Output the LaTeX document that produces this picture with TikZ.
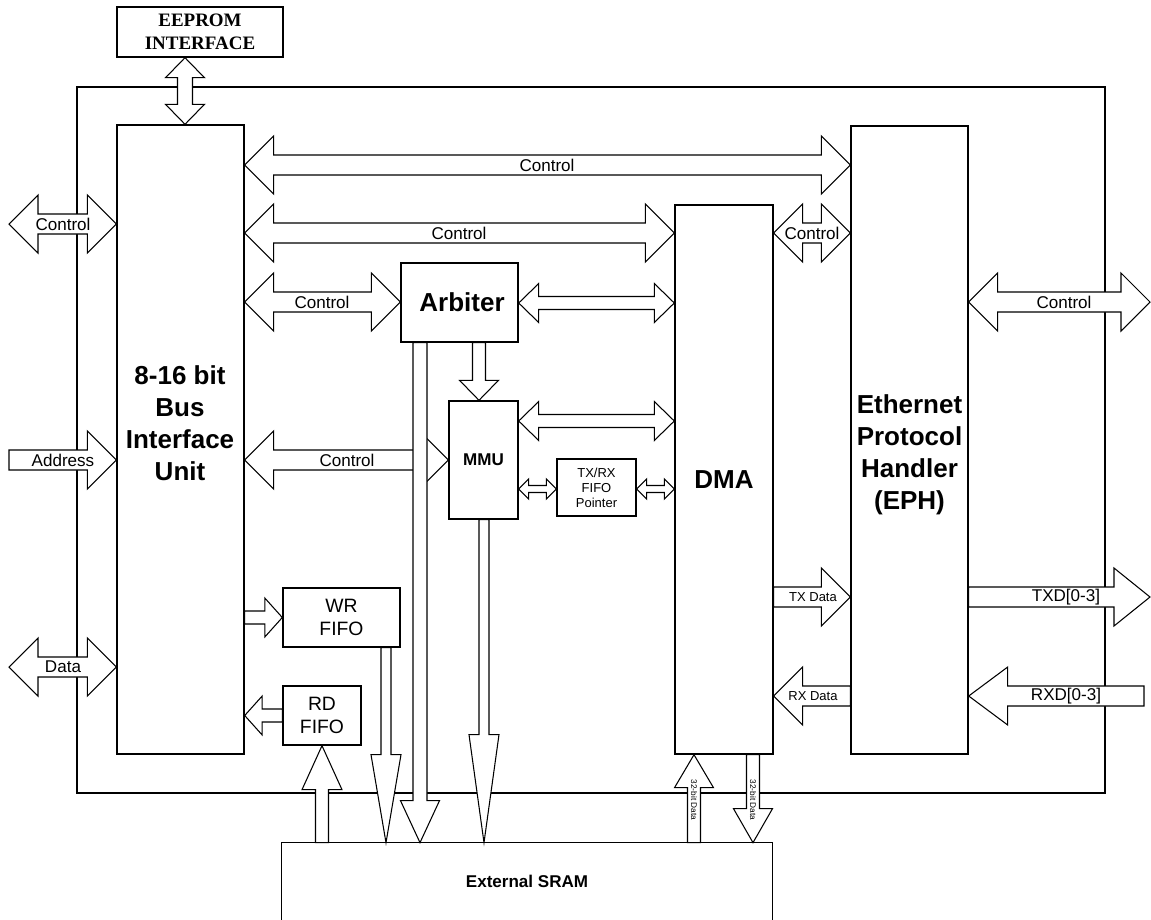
\documentclass[tikz,border=0pt]{standalone}
\usepackage{fontspec}
\setmainfont{Liberation Serif}
\setsansfont{Liberation Sans}
\usetikzlibrary{calc,fit}
\pgfdeclarelayer{chipbg}
\pgfdeclarelayer{buses}
\pgfsetlayers{chipbg,buses,main}
\tikzset{
  blk/.style={draw, line width=0.8pt, inner sep=0pt, fill=white},
  chip/.style={draw, line width=0.8pt, inner sep=0pt},
  bus/.style={draw, fill=white, line width=0.6pt, line join=miter},
  hdfont/.style={font=\sffamily\bfseries\fontsize{14.8}{18.2}\selectfont, align=center, inner sep=0pt},
  midbold/.style={font=\sffamily\bfseries\fontsize{9.7}{11.5}\selectfont, inner sep=0pt},
  fifofont/.style={font=\sffamily\fontsize{11}{12.6}\selectfont, align=center, inner sep=0pt},
  lbl/.style={font=\sffamily\fontsize{9.7}{11}\selectfont, inner sep=0pt},
  smlbl/.style={font=\sffamily\fontsize{7.4}{8.5}\selectfont, inner sep=0pt, align=center},
  tinylbl/.style={font=\sffamily\fontsize{4.7}{5.5}\selectfont, inner sep=0pt},
}
% bus arrows: #1 from, #2 to, #3 half shaft, #4 half head, #5 head length
\newcommand{\busboth}[5]{%
  \begin{pgfonlayer}{buses}
  \path (#1) coordinate (bA) (#2) coordinate (bB)
        ($(bA)!#5!(bB)$) coordinate (hA) ($(bB)!#5!(bA)$) coordinate (hB);
  \draw[bus] (bA) -- ($(hA)!#4!90:(bB)$) -- ($(hA)!#3!90:(bB)$)
    -- ($(hB)!#3!-90:(bA)$) -- ($(hB)!#4!-90:(bA)$) -- (bB)
    -- ($(hB)!#4!90:(bA)$) -- ($(hB)!#3!90:(bA)$)
    -- ($(hA)!#3!-90:(bB)$) -- ($(hA)!#4!-90:(bB)$) -- cycle;
  \end{pgfonlayer}}
\newcommand{\busone}[5]{%
  \begin{pgfonlayer}{buses}
  \path (#1) coordinate (bA) (#2) coordinate (bB)
        ($(bB)!#5!(bA)$) coordinate (hB);
  \draw[bus] ($(bA)!#3!90:(bB)$) -- ($(hB)!#3!-90:(bA)$)
    -- ($(hB)!#4!-90:(bA)$) -- (bB) -- ($(hB)!#4!90:(bA)$)
    -- ($(hB)!#3!90:(bA)$) -- ($(bA)!#3!-90:(bB)$) -- cycle;
  \end{pgfonlayer}}

\begin{document}
\begin{tikzpicture}[x=0.2mm, y=-0.2mm]
  \useasboundingbox (0,0) rectangle (1151,920);

  % chip outline
  \begin{pgfonlayer}{chipbg}
    \node[chip, fit={(77,87) (1105,793)}] (chip) {};
  \end{pgfonlayer}

  % blocks
  \node[blk, fit={(117,7) (283,57)}] (eeprom) {};
  \node[align=center, inner sep=0pt,
        font=\rmfamily\bfseries\fontsize{10.8}{13}\selectfont] (eepromtxt) at (eeprom) {EEPROM\\INTERFACE};
  \node[blk, fit={(117,125) (244,754)}] (biu) {};
  \node[hdfont] (biutxt) at (180,423) {8-16 bit\\Bus\\Interface\\Unit};
  \node[blk, fit={(401,263) (518,342)}] (arb) {};
  \node[hdfont] (arbtxt) at (462,302) {Arbiter};
  \node[blk, fit={(449,401) (518,519)}] (mmu) {};
  \node[midbold] (mmutxt) at (mmu) {MMU};
  \node[blk, fit={(557,459) (636,516)}] (ptr) {};
  \node[smlbl] (ptrtxt) at (ptr) {TX/RX\\FIFO\\Pointer};
  \node[blk, fit={(283,588) (400,647)}] (wr) {};
  \node[fifofont] (wrtxt) at (wr) {WR\\FIFO};
  \node[blk, fit={(283,686) (361,745)}] (rd) {};
  \node[fifofont] (rdtxt) at (rd) {RD\\FIFO};
  \node[blk, fit={(675,205) (773,754)}] (dma) {};
  \node[hdfont] (dmatxt) at (dma) {DMA};
  \node[blk, fit={(851,126) (968,754)}] (eph) {};
  \node[hdfont] (ephtxt) at (909.5,455) {Ethernet\\Protocol\\Handler\\(EPH)};
  \node[inner sep=0pt, fit={(282,843) (772,920)}] (sram) {};
  \node[midbold] (sramtxt) at (sram) {External SRAM};
  \draw[line width=0.8pt] (sram.south west) |- (sram.north east) -- (sram.south east);

  % bus labels
  \node[lbl] (ctlInTxt) at (63,224) {Control};
  \node[lbl] (addrTxt) at (63,460) {Address};
  \node[lbl] (dataTxt) at (63,667) {Data};
  \node[lbl] (ctlTopTxt) at (547,165) {Control};
  \node[lbl] (ctlDmaTxt) at (459,233) {Control};
  \node[lbl] (ctlArbTxt) at (322,302) {Control};
  \node[lbl] (ctlMmuTxt) at (347,460) {Control};
  \node[lbl] (ctlEphTxt) at (812,233) {Control};
  \node[lbl] (ctlOutTxt) at (1064,302) {Control};
  \node[smlbl] (txTxt) at (813,597) {TX Data};
  \node[smlbl] (rxTxt) at (813,696) {RX Data};
  \node[lbl] (txdTxt) at (1066,597) {TXD[0-3]};
  \node[lbl] (rxdTxt) at (1066,696) {RXD[0-3]};
  \node[tinylbl, rotate=-90] (d32up) at (694,800) {32-bit Data};
  \node[tinylbl, rotate=-90] (d32dn) at (753,800) {32-bit Data};

  % free ends
  \coordinate (ctlIn) at (9,224);
  \coordinate (addrIn) at (9,460);
  \coordinate (dataIn) at (9,667);
  \coordinate (ctlOut) at (1150,302);
  \coordinate (txdOut) at (1150,597);
  \coordinate (rxdIn) at (1144,696);

  % wide buses
  \busboth{ctlIn}{biu.west |- ctlIn}{2mm}{5.8mm}{5.8mm}
  \busone{addrIn}{biu.west |- addrIn}{2mm}{5.8mm}{5.8mm}
  \busboth{dataIn}{biu.west |- dataIn}{2mm}{5.8mm}{5.8mm}
  \busboth{biu.east |- ctlTopTxt}{eph.west |- ctlTopTxt}{2mm}{5.8mm}{5.8mm}
  \busboth{biu.east |- ctlDmaTxt}{dma.west |- ctlDmaTxt}{2mm}{5.8mm}{5.8mm}
  \busboth{biu.east |- ctlArbTxt}{arb.west |- ctlArbTxt}{2mm}{5.8mm}{5.8mm}
  \busboth{biu.east |- ctlMmuTxt}{mmu.west |- ctlMmuTxt}{2mm}{5.8mm}{5.8mm}
  \busboth{dma.east |- ctlEphTxt}{eph.west |- ctlEphTxt}{2mm}{5.8mm}{5.8mm}
  \busboth{eph.east |- ctlOut}{ctlOut}{2mm}{5.8mm}{5.8mm}
  \busone{dma.east |- txTxt}{eph.west |- txTxt}{2mm}{5.8mm}{5.8mm}
  \busone{eph.west |- rxTxt}{dma.east |- rxTxt}{2mm}{5.8mm}{5.8mm}
  \busone{eph.east |- txdOut}{txdOut}{2mm}{5.8mm}{7.2mm}
  \busone{rxdIn}{eph.east |- rxdIn}{2mm}{5.8mm}{7.8mm}

  % medium buses
  \busboth{eeprom.south -| 185,0}{biu.north -| 185,0}{1.5mm}{3.9mm}{4mm}
  \busboth{arb.east |- 0,303}{dma.west |- 0,303}{1.3mm}{3.9mm}{4mm}
  \busboth{mmu.east |- 0,421}{dma.west |- 0,421}{1.3mm}{3.9mm}{4mm}
  \busone{arb.south -| 479,0}{mmu.north -| 479,0}{1.3mm}{3.9mm}{4mm}
  \busone{biu.east |- wr}{wr.west}{1.3mm}{3.9mm}{3.5mm}
  \busone{rd.west}{biu.east |- rd}{1.3mm}{3.9mm}{3.5mm}
  \busone{sram.north -| rd}{rd.south}{1.3mm}{4mm}{8.8mm}
  \busone{wr.south -| 386,0}{sram.north -| 386,0}{1mm}{3mm}{17.6mm}
  \busone{arb.south -| 420,0}{sram.north -| 420,0}{1.4mm}{3.9mm}{8.4mm}
  \busone{mmu.south -| 484,0}{sram.north -| 484,0}{1mm}{3mm}{21.6mm}
  \busone{sram.north -| d32up}{dma.south -| d32up}{1.3mm}{3.9mm}{6.6mm}
  \busone{dma.south -| d32dn}{sram.north -| d32dn}{1.3mm}{3.9mm}{6.8mm}

  % small buses
  \busboth{mmu.east |- 0,489}{ptr.west |- 0,489}{0.7mm}{2mm}{2mm}
  \busboth{ptr.east |- 0,489}{dma.west |- 0,489}{0.7mm}{2mm}{2mm}
\end{tikzpicture}
\end{document}
